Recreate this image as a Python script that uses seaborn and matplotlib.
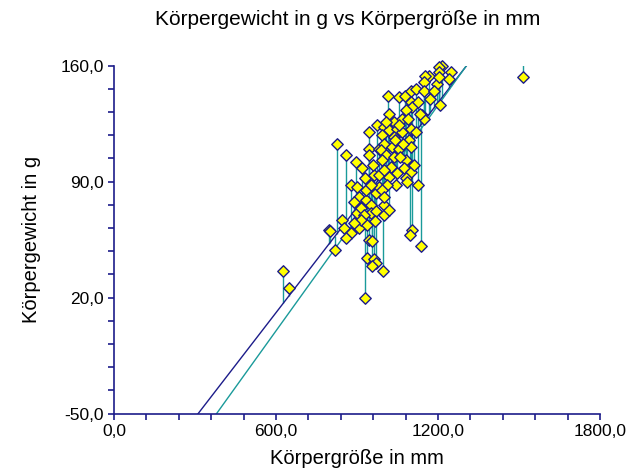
import numpy as np
import pandas as pd
import matplotlib
matplotlib.use("Agg")
import matplotlib.pyplot as plt
import seaborn as sns
from matplotlib.ticker import FixedLocator, MultipleLocator, FuncFormatter

# body length in mm / body weight in g
groesse_mm = [627, 649, 797, 800, 819, 826, 859, 896, 918, 878, 900, 944, 974, 944, 944,
              981, 930, 845, 852, 878, 859, 907, 900, 896, 907, 933, 952, 952, 944, 955,
              937, 963, 970, 955, 930, 996, 933, 970, 981, 963, 981, 889, 1000, 1214, 1202,
              1247, 1166, 1151, 1202, 1239, 1147, 1195, 1202, 1014, 1055, 1077, 1099, 1118, 1099, 1147,
              1103, 1206, 1018, 1081, 1140, 1147, 1066, 1088, 1036, 1000, 1018, 1048, 1066, 1099, 992,
              1036, 1092, 1099, 1000, 1029, 1055, 989, 1007, 1036, 1081, 992, 1025, 1073, 1099, 1048,
              1018, 1081, 1044, 1011, 1125, 992, 1000, 1103, 1095, 1136, 1055, 1007, 1085, 1516, 1133,
              915, 970, 926, 915, 937, 889, 966, 952, 1000, 1018, 1060, 1120, 1170, 1185, 1110,
              1040, 1070, 960, 1000, 1125]
gewicht_g = [36, 26, 61, 60, 49, 113, 106, 102, 98, 88, 87, 120, 124, 110, 106,
             110, 92, 67, 62, 59, 56, 62, 71, 77, 81, 79, 76, 71, 55, 54,
             44, 43, 41, 39, 20, 36, 85, 83, 87, 94, 94, 78, 76, 160, 159,
             156, 154, 154, 156, 152, 150, 149, 153, 142, 141, 142, 145, 146, 138, 145,
             135, 136, 131, 133, 130, 128, 128, 128, 126, 123, 121, 122, 120, 122, 118,
             117, 115, 111, 113, 111, 110, 109, 106, 105, 103, 103, 99, 98, 96, 95,
             93, 92, 88, 88, 88, 85, 81, 61, 58, 51, 124, 126, 90, 153, 131,
             74, 72, 70, 67, 64, 65, 66, 88, 70, 73, 105, 120, 140, 145, 100,
             115, 113, 100, 97, 138]

# the two fitted lines (slope, intercept)
fit_blau = (0.2113, -115.9)
fit_tuerkis = (0.227, -136.3)

x_ticks = [0, 600, 1200, 1800]
y_ticks = [-50, 20, 90, 160]

df = pd.DataFrame({"groesse": groesse_mm, "gewicht": gewicht_g})

navy = "#1c1c8a"
teal = "#1a9a9a"

sns.set_style("white")
plt.rcParams["font.family"] = ["Liberation Sans", "DejaVu Sans"]
plt.rcParams["text.color"] = "black"
plt.rcParams["axes.labelcolor"] = "black"

fig = plt.figure(figsize=(6.43, 4.70), dpi=100)
ax = fig.add_axes([0.1773, 0.1202, 0.7558, 0.7400])

# residuals to the fitted line
x = df["groesse"].to_numpy()
y_fit = fit_blau[0] * x + fit_blau[1]
ax.vlines(x, df["gewicht"], y_fit, color=teal, lw=1.0, zorder=1)

xs = np.array([0, 1800])
ax.plot(xs, fit_blau[0] * xs + fit_blau[1], color=navy, lw=1.0, zorder=2)
ax.plot(xs, fit_tuerkis[0] * xs + fit_tuerkis[1], color=teal, lw=1.0, zorder=2)

sns.scatterplot(data=df, x="groesse", y="gewicht", marker="D", s=34,
                color="#ffff00", edgecolor=navy, linewidth=1.0, ax=ax, zorder=3,
                clip_on=False)

ax.set_xlim(0, 1800)
ax.set_ylim(-50, 160)
ax.xaxis.set_major_locator(FixedLocator(x_ticks))
ax.xaxis.set_minor_locator(MultipleLocator(120))
ax.yaxis.set_major_locator(FixedLocator(y_ticks))
ax.yaxis.set_minor_locator(FixedLocator(np.arange(-50, 161, 14)))
fmt = FuncFormatter(lambda v, p: f"{v:.1f}".replace(".", ","))
ax.xaxis.set_major_formatter(fmt)
ax.yaxis.set_major_formatter(fmt)

for s in ["top", "right"]:
    ax.spines[s].set_visible(False)
for s in ["left", "bottom"]:
    ax.spines[s].set_color(navy)
    ax.spines[s].set_linewidth(1.2)
ax.tick_params(which="both", direction="out", length=4, width=1.2, color=navy,
               labelsize=12.5, labelcolor="black", left=True, bottom=True)

ax.set_xlabel("Körpergröße in mm", fontsize=14.5, labelpad=7)
ax.set_ylabel("Körpergewicht in g", fontsize=14.5, labelpad=14)
fig.text(0.54, 0.958, "Körpergewicht in g vs Körpergröße in mm", ha="center",
         va="center", fontsize=15, color="black")

fig.savefig("out.png", dpi=100)
